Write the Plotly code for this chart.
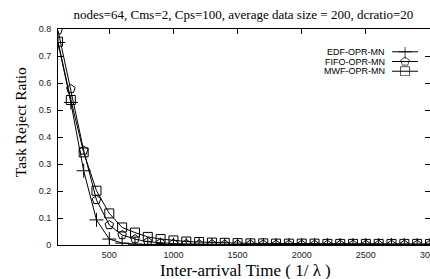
import plotly.graph_objects as go

x_vals = list(range(100, 3100, 100))

edf = [0.750, 0.528, 0.275, 0.093, 0.022, 0.007, 0.003, 0.002, 0.001, 0.001,
       0.001, 0.001, 0.0, 0.0, 0.0, 0.0, 0.0, 0.0, 0.0, 0.0,
       0.0, 0.0, 0.0, 0.0, 0.0, 0.0, 0.0, 0.0, 0.0, 0.0]
fifo = [0.795, 0.578, 0.350, 0.167, 0.074, 0.037, 0.022, 0.012, 0.008, 0.005,
        0.004, 0.003, 0.003, 0.002, 0.002, 0.002, 0.002, 0.001, 0.001, 0.001,
        0.001, 0.001, 0.001, 0.001, 0.001, 0.001, 0.001, 0.001, 0.001, 0.001]
mwf = [0.753, 0.537, 0.343, 0.201, 0.117, 0.065, 0.046, 0.030, 0.022, 0.017,
       0.013, 0.011, 0.009, 0.008, 0.007, 0.006, 0.006, 0.005, 0.005, 0.005,
       0.005, 0.004, 0.004, 0.004, 0.004, 0.004, 0.004, 0.004, 0.004, 0.004]

series_names = ["EDF-OPR-MN", "FIFO-OPR-MN", "MWF-OPR-MN"]
series_values = [edf, fifo, mwf]
symbols = ["cross-thin-open", "pentagon-open", "square-open"]
sizes = [10, 9, 9]

x_ticks = [500, 1000, 1500, 2000, 2500, 3000]
y_ticks = [0, 0.1, 0.2, 0.3, 0.4, 0.5, 0.6, 0.7, 0.8]

title_text = "nodes=64, Cms=2, Cps=100, average data size = 200, dcratio=20"
x_title = "Inter-arrival Time ( 1/ λ )"
y_title = "Task Reject Ratio"

serif = "Liberation Serif, Times New Roman, serif"
sans = "Liberation Sans, Arial, sans-serif"

fig = go.Figure()
for name, vals, sym, sz in zip(series_names, series_values, symbols, sizes):
    fig.add_trace(go.Scatter(
        x=x_vals, y=vals, mode="lines+markers", name=name, showlegend=False,
        line=dict(color="black", width=1),
        marker=dict(symbol=sym, size=sz, color="black", line=dict(width=1, color="black")),
    ))

# legend keys (gnuplot style: text right, sample on right)
for i, (name, sym, sz) in enumerate(zip(series_names, symbols, sizes)):
    fig.add_trace(go.Scatter(
        x=[0, 0.5, 1], y=[i, i, i], xaxis="x2", yaxis="y2",
        mode="lines+markers", showlegend=False, hoverinfo="skip",
        line=dict(color="black", width=1),
        marker=dict(symbol=sym, size=[0, sz, 0], color="black", line=dict(width=1, color="black")),
    ))
    fig.add_annotation(text=name, xref="paper", yref="y2", x=0.884, y=i,
                       xanchor="right", yanchor="middle", showarrow=False,
                       font=dict(family=sans, size=9, color="black"))

# axis titles placed like gnuplot
fig.add_annotation(text=y_title, xref="paper", yref="paper", x=-0.102, y=0.569,
                   xanchor="center", yanchor="middle", textangle=-90, showarrow=False,
                   font=dict(family=serif, size=15.5, color="black"))
fig.add_annotation(text=x_title, xref="paper", yref="paper", x=0.503, y=-0.118,
                   xanchor="center", yanchor="middle", showarrow=False, borderpad=0,
                   font=dict(family=serif, size=17, color="black"))

axis_common = dict(showline=True, linecolor="black", linewidth=1, mirror="allticks",
                   ticks="inside", ticklen=5, tickcolor="black", showgrid=False, zeroline=False,
                   automargin=False, ticklabeloverflow="allow",
                   tickfont=dict(family=sans, size=9, color="#222222"))

fig.update_layout(
    width=430, height=279,
    margin=dict(l=58, r=0, t=29, b=34, autoexpand=False),
    plot_bgcolor="white", paper_bgcolor="white",
    title=dict(text=title_text, x=0.566, xanchor="center", y=0.95, yanchor="middle",
               font=dict(family=serif, size=13, color="black")),
    xaxis=dict(range=[100, 3000], tickvals=x_ticks, ticklabelstandoff=1, **axis_common),
    yaxis=dict(range=[0, 0.8], tickvals=y_ticks, ticklabelstandoff=4, **axis_common),
    xaxis2=dict(domain=[0.898, 0.968], range=[0, 1], visible=False, anchor="y2"),
    yaxis2=dict(domain=[0.782, 0.917], range=[2.5, -0.5], visible=False, anchor="x2"),
)

fig.write_html("out.html", config={"displayModeBar": False},
               post_script="document.body.style.margin='0';document.body.style.overflow='hidden';")
